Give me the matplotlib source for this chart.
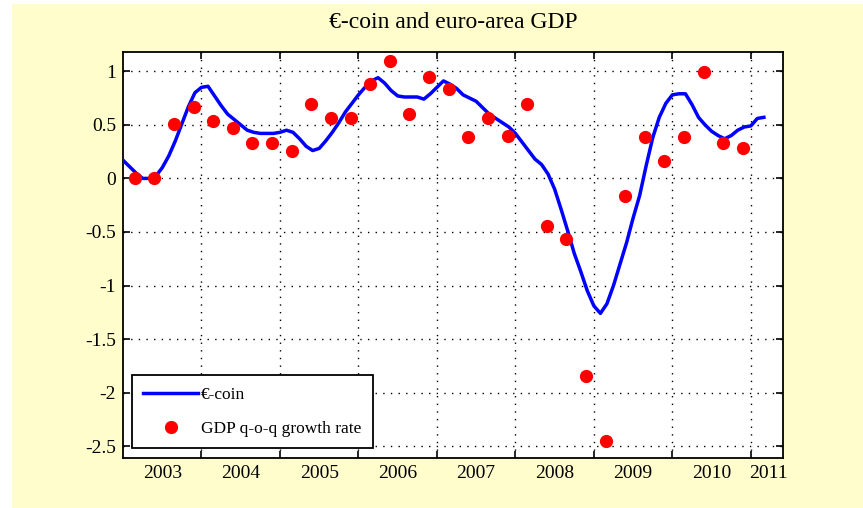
import numpy as np
import matplotlib
matplotlib.use('Agg')
import matplotlib.pyplot as plt
from matplotlib.patches import Rectangle

# monthly €-coin values, Jan 2003 onwards
ecoin = [0.17, 0.11, 0.05, 0.00, 0.00, 0.02, 0.10, 0.21, 0.35, 0.51, 0.67, 0.80,
         0.85, 0.86, 0.77, 0.68, 0.60, 0.55, 0.50, 0.45, 0.43, 0.42, 0.42, 0.42,
         0.43, 0.45, 0.43, 0.37, 0.30, 0.26, 0.28, 0.35, 0.43, 0.52, 0.62, 0.70,
         0.78, 0.85, 0.91, 0.94, 0.89, 0.82, 0.77, 0.76, 0.76, 0.76, 0.74, 0.79,
         0.85, 0.91, 0.88, 0.84, 0.78, 0.75, 0.72, 0.66, 0.60, 0.56, 0.52, 0.48,
         0.42, 0.34, 0.26, 0.18, 0.13, 0.04, -0.10, -0.29, -0.49, -0.70, -0.87, -1.05,
         -1.19, -1.26, -1.17, -1.00, -0.80, -0.60, -0.37, -0.16, 0.12, 0.38, 0.57, 0.70,
         0.78, 0.79, 0.79, 0.69, 0.57, 0.50, 0.44, 0.40, 0.37, 0.40, 0.45, 0.48,
         0.49, 0.56, 0.57]

# quarterly GDP growth, 2003Q1 - 2010Q4
gdp = [0.00, 0.00, 0.51, 0.67, 0.54, 0.47, 0.33, 0.33,
       0.26, 0.69, 0.56, 0.56, 0.88, 1.10, 0.60, 0.95,
       0.83, 0.39, 0.56, 0.40, 0.69, -0.44, -0.57, -1.84,
       -2.45, -0.16, 0.39, 0.16, 0.39, 0.99, 0.33, 0.28]

years = list(range(2003, 2012))
yticks = [-2.5, -2, -1.5, -1, -0.5, 0, 0.5, 1]

t_month = 2003 + np.arange(len(ecoin)) / 12
t_quarter = 2003.15 + 0.25 * np.arange(len(gdp))

plt.rcParams['font.family'] = ['Liberation Serif', 'DejaVu Serif']
plt.rcParams['axes.unicode_minus'] = False

fig = plt.figure(figsize=(8.63, 5.08), dpi=100, facecolor='white')
fig.add_artist(Rectangle((12 / 863, 0), 1, 504 / 508, transform=fig.transFigure,
                         facecolor='#FFFDCC', edgecolor='none', zorder=0))
ax = fig.add_axes([123 / 863, 50 / 508, 660 / 863, 406 / 508])
ax.set_facecolor('white')

ax.plot(t_month, ecoin, color='#0000FF', lw=2.5, label='€-coin', zorder=3)
ax.plot(t_quarter, gdp, 'o', color='#FF0000', ms=8.5, mec='#FF0000',
        label='GDP q-o-q growth rate', zorder=4)

ax.set_xlim(2003, 2011.41)
ax.set_ylim(-2.61, 1.18)

# year boundaries carry the ticks/grid, labels sit mid-year
ax.set_xticks(years[1:])
ax.set_xticklabels([])
lab_pos = [y + 0.5 for y in years[:-1]] + [2011.22]
ax.set_xticks(lab_pos, minor=True)
ax.set_xticklabels([str(y) for y in years], minor=True)
ax.set_yticks(yticks)
ax.set_yticklabels(['%g' % v for v in yticks])

ax.tick_params(which='major', direction='in', length=5, width=1.2,
               top=True, right=True, labelsize=14, pad=5, colors='black')
ax.tick_params(which='minor', length=0, labelsize=14, pad=5)
ax.grid(True, which='major', color='black', ls=(0, (1, 4.5)), lw=1.0)
for s in ax.spines.values():
    s.set_linewidth(1.3)

ax.set_title('€-coin and euro-area GDP', fontsize=17, pad=17)

leg = ax.legend(loc='lower left', bbox_to_anchor=(0.013, 0.024), borderaxespad=0,
                fontsize=12.5, fancybox=False, framealpha=1, edgecolor='black',
                handlelength=3.2, handletextpad=0.15, labelspacing=1.05,
                borderpad=0.65)
leg.get_frame().set_linewidth(1.3)

fig.savefig('out.png', dpi=100)
